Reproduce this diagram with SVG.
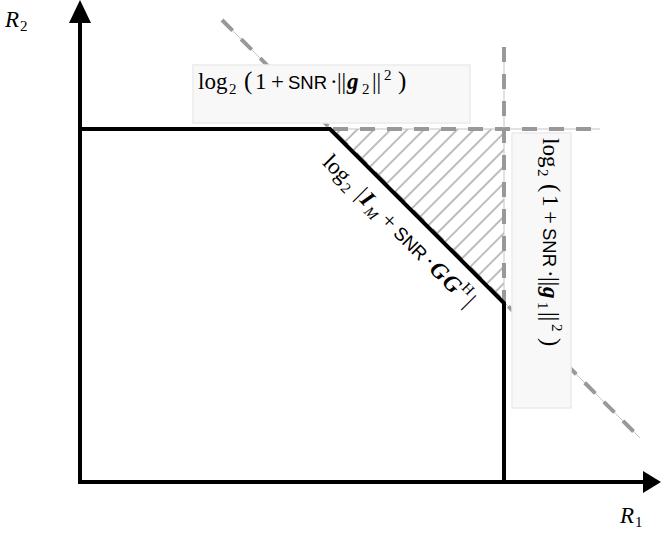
<svg xmlns="http://www.w3.org/2000/svg" width="661" height="534" viewBox="0 0 661 534">
<defs>
<pattern id="hatch" patternUnits="userSpaceOnUse" width="11.8" height="11.8" patternTransform="rotate(45)">
<line x1="2" y1="0" x2="2" y2="11.8" stroke="#9a9a9a" stroke-width="1.3"/>
</pattern>
</defs>
<style>
.thin{stroke:#c4c4c4;stroke-width:1;fill:none}
.dash{stroke:#999;stroke-width:4;stroke-dasharray:15 12;fill:none}
.bold{stroke:#000;stroke-width:4;fill:none}
.box{fill:#f8f8f8;stroke:#ebebeb;stroke-width:1.5}
text{font-family:"Liberation Serif","DejaVu Serif",serif;font-size:23px;fill:#000}
.sans{font-family:"Liberation Sans","DejaVu Sans",sans-serif;font-size:18.5px}
.sub{font-size:15px}
.bi{font-weight:bold;font-style:italic}
.it{font-style:italic}
.par{font-size:25px}
</style>
<g id="hatched-region">
<polygon points="330,129 504,129 504,303" fill="url(#hatch)"/>
</g>
<g id="guides">
<line class="thin" x1="222" y1="20" x2="640" y2="438"/>
<line class="dash" x1="222" y1="20" x2="640" y2="438"/>
<line class="thin" x1="333" y1="129" x2="600" y2="129"/>
<line class="dash" x1="333" y1="129" x2="600" y2="129"/>
<line class="thin" x1="504" y1="47" x2="504" y2="302"/>
<line class="dash" x1="504" y1="47" x2="504" y2="302"/>
</g>
<g id="label-g2">
<rect class="box" x="193" y="65" width="277" height="58"/>
<g transform="translate(198,89)">
<text y="0"><tspan x="0">log</tspan><tspan class="sub" x="31" y="5">2</tspan><tspan class="par" x="46" y="0">(</tspan><tspan x="57" y="0">1</tspan><tspan x="73">+</tspan><tspan class="sans" x="90">SNR</tspan><tspan x="132">·</tspan><tspan x="139">|</tspan><tspan x="143.5">|</tspan><tspan class="bi" x="149">g</tspan><tspan class="sub" x="164" y="5">2</tspan><tspan x="174" y="0">|</tspan><tspan x="178.5">|</tspan><tspan class="sub" x="186" y="-9">2</tspan><tspan class="par" x="200" y="0">)</tspan></text>
</g>
</g>
<g id="label-g1">
<rect class="box" x="512" y="133" width="59" height="275"/>
<g transform="translate(543,138) rotate(90)">
<text y="0"><tspan x="0">log</tspan><tspan class="sub" x="31" y="5">2</tspan><tspan class="par" x="46" y="0">(</tspan><tspan x="57" y="0">1</tspan><tspan x="73">+</tspan><tspan class="sans" x="90">SNR</tspan><tspan x="132">·</tspan><tspan x="139">|</tspan><tspan x="143.5">|</tspan><tspan class="bi" x="149">g</tspan><tspan class="sub" x="164" y="5">1</tspan><tspan x="174" y="0">|</tspan><tspan x="178.5">|</tspan><tspan class="sub" x="186" y="-9">2</tspan><tspan class="par" x="200" y="0">)</tspan></text>
</g>
</g>
<g id="boundary">
<polyline class="bold" points="80,129 330,129 504,303 504,482"/>
</g>
<g id="label-diag" transform="translate(395,237) rotate(45)">
<text y="0"><tspan x="-104">log</tspan><tspan class="sub" x="-73" y="5">2</tspan><tspan x="-57" y="0">|</tspan><tspan class="bi" x="-51">I</tspan><tspan class="sub it" x="-40" y="5">M</tspan><tspan x="-22" y="0">+</tspan><tspan class="sans" x="-4">SNR</tspan><tspan x="38">·</tspan><tspan class="bi" x="47">G</tspan><tspan class="bi" x="65">G</tspan><tspan class="sub" x="83" y="-10">H</tspan><tspan x="96" y="0">|</tspan></text>
</g>
<g id="axes">
<line class="bold" x1="80" y1="484" x2="80" y2="20"/>
<polygon points="80,0 69,23 91,23" fill="#000"/>
<line class="bold" x1="78" y1="482" x2="645" y2="482"/>
<polygon points="661,482 643,471 643,493" fill="#000"/>
<text x="5" y="27" class="it">R</text><text x="20" y="31" class="sub">2</text>
<text x="620" y="523" class="it">R</text><text x="635" y="527" class="sub">1</text>
</g>
</svg>
